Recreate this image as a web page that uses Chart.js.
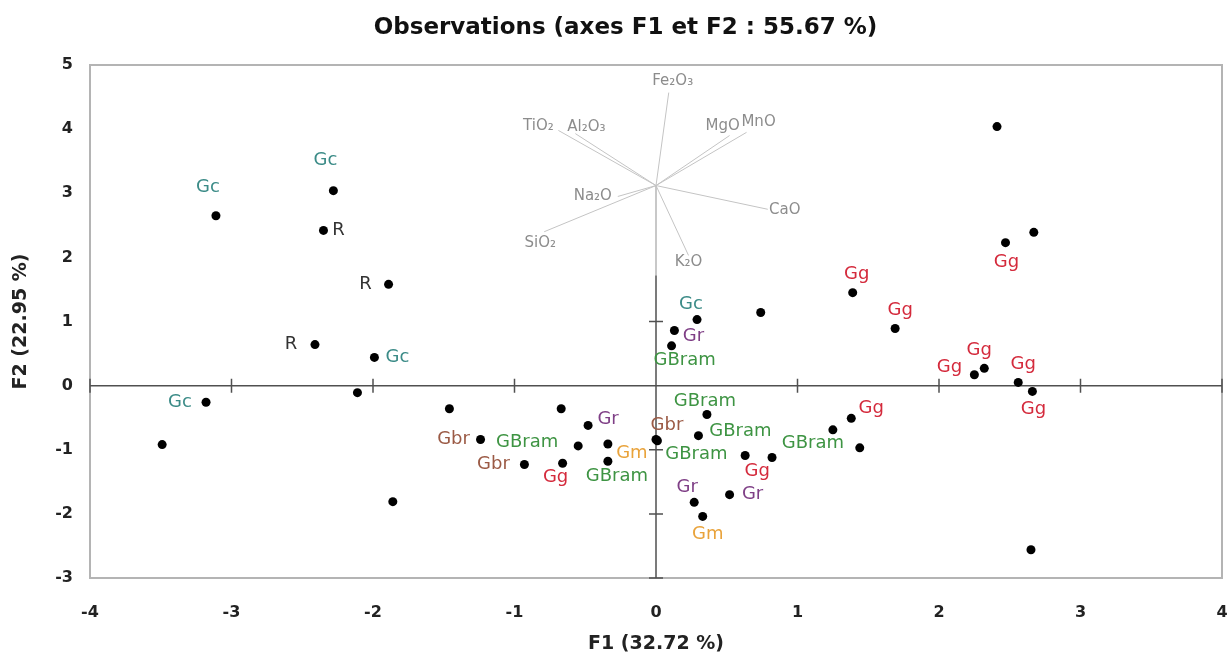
<!DOCTYPE html>
<html>
<head>
<meta charset="utf-8">
<title>Observations (axes F1 et F2 : 55.67 %)</title>
<script src="https://cdn.jsdelivr.net/npm/chart.js@4.4.0/dist/chart.umd.min.js"></script>
<style>
  html, body { margin: 0; padding: 0; background: #fff; }
  canvas { display: block; }
</style>
</head>
<body>
<canvas id="pcaChart" width="1231" height="655"></canvas>
<script>
// observations on F1 / F2 and their group ('' = unlabelled point)
const obsF1 = [-3.11, -2.28, -2.35, -1.89, -2.41, -1.99, -2.11, -3.18, -3.49, -1.86,
               -1.46, -1.24, -0.55, -0.93, -0.66, -0.67, -0.48, -0.34, -0.34, 0.00,
               0.01, 0.36, 0.30, 0.63, 0.82, 0.27, 0.52, 0.33, 1.25, 1.38,
               1.44, 2.65, 0.11, 0.13, 0.29, 0.74, 2.41, 2.67, 2.47, 1.39,
               1.69, 2.25, 2.32, 2.56, 2.66];
const obsF2 = [2.65, 3.04, 2.42, 1.58, 0.64, 0.44, -0.11, -0.26, -0.92, -1.81,
               -0.36, -0.84, -0.94, -1.23, -1.21, -0.36, -0.62, -0.91, -1.18, -0.84,
               -0.86, -0.45, -0.78, -1.09, -1.12, -1.82, -1.70, -2.04, -0.69, -0.51,
               -0.97, -2.56, 0.62, 0.86, 1.03, 1.14, 4.04, 2.39, 2.23, 1.45,
               0.89, 0.17, 0.27, 0.05, -0.09];
const obsGroup = ['Gc', 'Gc', 'R', 'R', 'R', 'Gc', '', 'Gc', '', '',
                  '', 'Gbr', 'GBram', 'Gbr', 'Gg', '', 'Gr', 'Gm', 'GBram', 'Gbr',
                  'GBram', 'GBram', 'GBram', 'Gg', '', 'Gr', 'Gr', 'Gm', 'GBram', 'Gg',
                  '', '', 'GBram', 'Gr', 'Gc', '', '', '', 'Gg', 'Gg',
                  'Gg', 'Gg', 'Gg', 'Gg', 'Gg'];

// variables (correlation vectors drawn from a shared origin)
const varNames = ['Fe₂O₃', 'TiO₂', 'Al₂O₃', 'MgO', 'MnO', 'Na₂O', 'SiO₂', 'CaO', 'K₂O'];
const varF1 = [0.09, -0.69, -0.57, 0.52, 0.64, -0.27, -0.79, 0.79, 0.23];
const varF2 = [4.57, 3.98, 3.93, 3.90, 3.95, 2.95, 2.40, 2.75, 2.03];
const vecOrigin = [0, 3.12];
const vecStemEnd = 1.72;

const xTicks = [-4, -3, -2, -1, 0, 1, 2, 3, 4];
const yTicks = [-3, -2, -1, 0, 1, 2, 3, 4, 5];

const chartTitle = 'Observations (axes F1 et F2 : 55.67 %)';

// label placement (pixel offsets from the point), kept apart from the data
const obsLabelOffset = [[-8,-28],[-8,-30],[15,0],[-23,0],[-24,0],[23,0],[0,0],[-26,0],[0,0],[0,0],
  [0,0],[-27,0],[-51,-4],[-31,0],[-7,14],[0,0],[20,-6],[24,9],[9,15],[11,-14],
  [39,14],[-2,-13],[42,-4],[12,16],[0,0],[-7,-15],[23,0],[5,18],[-20,13],[20,-10],
  [0,0],[0,0],[13,14],[19,6],[-6,-15],[0,0],[0,0],[0,0],[1,20],[4,-18],
  [5,-18],[-25,-7],[-5,-18],[5,-18],[1,18]];
const varLabelOffset = [[4,-11],[-20,-4],[11,-7],[-7,-9],[12,-10],[-25,0],[-4,11],[17,1],[0,7]];

const groupColors = {
  Gc: '#3b8b87', R: '#333333', Gg: '#d42a3c', GBram: '#3e9443',
  Gbr: '#9b5a45', Gr: '#7f3f86', Gm: '#e9a33b'
};
const FONT = 'DejaVu Sans';

const biplotPlugin = {
  id: 'biplot',
  beforeDatasetsDraw(chart) {
    const { ctx, chartArea: a, scales: { x, y } } = chart;
    ctx.save();
    ctx.strokeStyle = '#b4b4b4';
    ctx.lineWidth = 2;
    ctx.strokeRect(a.left, a.top, a.right - a.left, a.bottom - a.top);

    const x0 = x.getPixelForValue(0), y0 = y.getPixelForValue(0);
    ctx.strokeStyle = '#505050';
    ctx.lineWidth = 1.5;
    ctx.beginPath();
    ctx.moveTo(a.left, y0); ctx.lineTo(a.right, y0);
    ctx.moveTo(x0, y.getPixelForValue(vecStemEnd)); ctx.lineTo(x0, a.bottom);
    xTicks.filter(v => v !== 0).forEach(v => {
      const px = x.getPixelForValue(v);
      ctx.moveTo(px, y0 - 7); ctx.lineTo(px, y0 + 7);
    });
    yTicks.filter(v => v !== 0 && v < vecStemEnd).forEach(v => {
      const py = y.getPixelForValue(v);
      ctx.moveTo(x0 - 7, py); ctx.lineTo(x0 + 7, py);
    });
    ctx.stroke();
    ctx.restore();
  },
  afterDatasetsDraw(chart) {
    const { ctx, scales: { x, y } } = chart;
    ctx.save();
    ctx.textAlign = 'center';
    ctx.textBaseline = 'middle';

    ctx.font = '15px "' + FONT + '"';
    ctx.fillStyle = '#8c8c8c';
    varNames.forEach((n, i) => {
      const [dx, dy] = varLabelOffset[i];
      ctx.fillText(n, x.getPixelForValue(varF1[i]) + dx, y.getPixelForValue(varF2[i]) + dy);
    });

    ctx.font = '18px "' + FONT + '"';
    obsGroup.forEach((g, i) => {
      if (!g) return;
      const [dx, dy] = obsLabelOffset[i];
      ctx.fillStyle = groupColors[g];
      ctx.fillText(g, x.getPixelForValue(obsF1[i]) + dx, y.getPixelForValue(obsF2[i]) + dy);
    });
    ctx.restore();
  },
  afterDraw(chart) {
    // title sits a bit left of the canvas centre, as in the source figure
    const { ctx, width } = chart;
    ctx.save();
    ctx.font = 'bold 23px "' + FONT + '"';
    ctx.fillStyle = '#111';
    ctx.textAlign = 'center';
    ctx.textBaseline = 'middle';
    ctx.fillText(chartTitle, width / 2 + 10, 28);
    ctx.restore();
  }
};

const pointSet = {
  type: 'scatter',
  data: obsF1.map((v, i) => ({ x: v, y: obsF2[i] })),
  backgroundColor: '#000',
  borderWidth: 0,
  pointRadius: 4.5
};
const vectorSets = varNames.map((n, i) => ({
  type: 'scatter',
  showLine: true,
  data: [{ x: vecOrigin[0], y: vecOrigin[1] }, { x: varF1[i], y: varF2[i] }],
  borderColor: '#c4c4c4',
  borderWidth: 1,
  pointRadius: 0
}));
const stemSet = {
  type: 'scatter',
  showLine: true,
  data: [{ x: vecOrigin[0], y: vecOrigin[1] }, { x: vecOrigin[0], y: vecStemEnd }],
  borderColor: '#c8c8c8',
  borderWidth: 2,
  pointRadius: 0
};

const tickFont = { family: FONT, size: 16, weight: 'bold' };

new Chart(document.getElementById('pcaChart').getContext('2d'), {
  type: 'scatter',
  data: { datasets: [pointSet, ...vectorSets, stemSet] },
  options: {
    responsive: false,
    animation: false,
    layout: { padding: { top: 65, right: 9 } },
    plugins: {
      legend: { display: false },
      tooltip: { enabled: false },
      title: { display: false }
    },
    scales: {
      x: {
        type: 'linear', min: -4, max: 4,
        afterBuildTicks: s => { s.ticks = xTicks.map(v => ({ value: v })); },
        afterFit: s => { s.height = 77; s.paddingLeft = 0; s.paddingRight = 0; },
        grid: { display: false, drawTicks: false },
        border: { display: false },
        ticks: { font: tickFont, color: '#222', padding: 25 },
        title: {
          display: true, text: 'F1 (32.72 %)', color: '#222',
          font: { family: FONT, size: 19, weight: 'bold' },
          padding: { top: 2, bottom: 0 }
        }
      },
      y: {
        type: 'linear', min: -3, max: 5,
        afterBuildTicks: s => { s.ticks = yTicks.map(v => ({ value: v })); },
        afterFit: s => { s.width = 90; s.paddingTop = 0; s.paddingBottom = 0; },
        grid: { display: false, drawTicks: false },
        border: { display: false },
        ticks: { font: tickFont, color: '#222', padding: 17 },
        title: {
          display: true, text: 'F2 (22.95 %)', color: '#222',
          font: { family: FONT, size: 19, weight: 'bold' },
          padding: { top: 10, bottom: 0 }
        }
      }
    }
  },
  plugins: [biplotPlugin]
});
</script>
</body>
</html>
